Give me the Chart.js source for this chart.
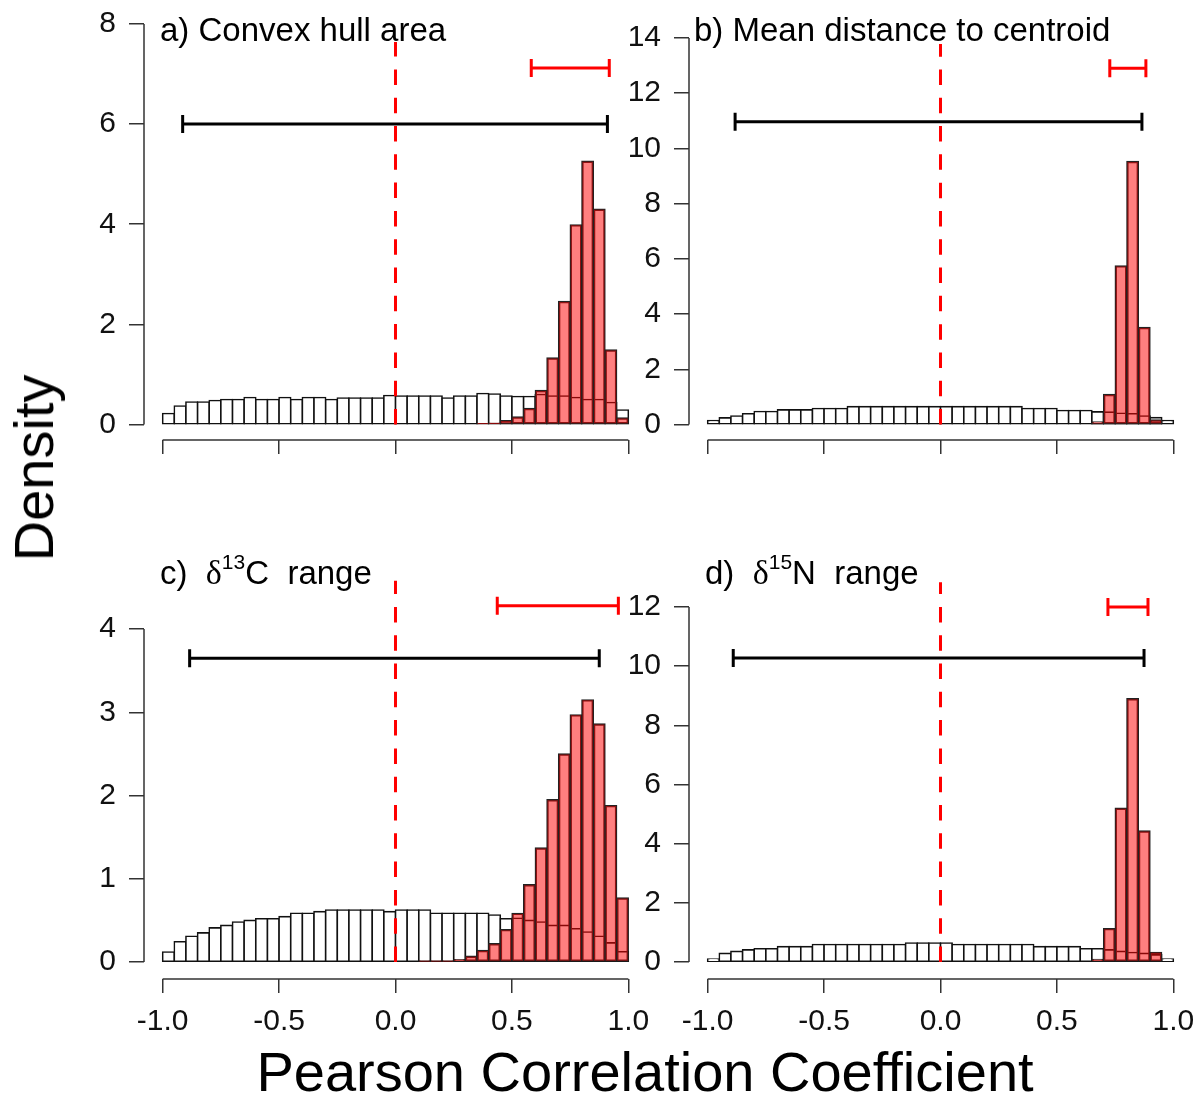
<!DOCTYPE html>
<html>
<head>
<meta charset="utf-8">
<script src="https://cdn.jsdelivr.net/npm/chart.js@4.4.1/dist/chart.umd.min.js"></script>
<style>
  html, body { margin: 0; padding: 0; background: #fff; overflow: hidden; }
  #page { position: relative; width: 1200px; height: 1095px; overflow: hidden;
          font-family: "Liberation Sans", Arial, sans-serif; color: #000; }
  canvas { position: absolute; }
  .title { position: absolute; font-size: 33px; line-height: 33px; white-space: pre; }
  .greek { font-family: "Liberation Serif", "DejaVu Serif", serif; font-size: 34px; }
  .title sup { font-size: 21px; line-height: 0; vertical-align: baseline; position: relative; top: -15px; }
  .axlab { position: absolute; font-size: 56px; line-height: 56px; white-space: nowrap; }
</style>
</head>
<body>
<div id="page">
  <canvas id="panelA" width="677" height="500" style="left:0px;top:-10px"></canvas>
  <canvas id="panelB" width="613" height="490" style="left:609px;top:0px"></canvas>
  <canvas id="panelC" width="677" height="500" style="left:0px;top:560px"></canvas>
  <canvas id="panelD" width="613" height="500" style="left:609px;top:560px"></canvas>

  <div class="title" style="left:160px;top:13px">a) Convex hull area</div>
  <div class="title" style="left:694px;top:13px">b) Mean distance to centroid</div>
  <div class="title" style="left:160px;top:556px">c)  <span class="greek">δ</span><sup>13</sup>C  range</div>
  <div class="title" style="left:705px;top:556px">d)  <span class="greek">δ</span><sup>15</sup>N  range</div>

  <div class="axlab" style="left:34px;top:468px;transform:translate(-50%,-50%) rotate(-90deg)">Density</div>
  <div class="axlab" style="left:645px;top:1044px;transform:translateX(-50%)">Pearson Correlation Coefficient</div>
</div>

<script>
// bins of width 0.05 between -1 and 1
const binCenters = Array.from({ length: 40 }, (_, i) => -0.975 + i * 0.05);
const xTicks = [-1, -0.5, 0, 0.5, 1];
const xTickLabels = ["-1.0", "-0.5", "0.0", "0.5", "1.0"];

// a) Convex hull area
const nullA = [0.22, 0.37, 0.45, 0.45, 0.48, 0.50, 0.50, 0.54, 0.50, 0.50,
               0.54, 0.50, 0.54, 0.54, 0.50, 0.53, 0.53, 0.53, 0.53, 0.58,
               0.57, 0.57, 0.57, 0.57, 0.53, 0.57, 0.57, 0.62, 0.61, 0.57,
               0.56, 0.56, 0.60, 0.57, 0.57, 0.54, 0.50, 0.50, 0.44, 0.29];
const obsA  = [0, 0, 0, 0, 0, 0, 0, 0, 0, 0,
               0, 0, 0, 0, 0, 0, 0, 0, 0, 0,
               0, 0, 0, 0, 0, 0, 0, 0.02, 0.03, 0.08,
               0.15, 0.32, 0.68, 1.33, 2.46, 3.99, 5.26, 4.30, 1.49, 0.13];
const yTicksA = [0, 2, 4, 6, 8];
const ciNullA = [-0.914, 0.910];
const ciObsA = [0.583, 0.918];
const ciLevelA = [6.0, 7.12];
const zeroLineTopA = 7.64;

// b) Mean distance to centroid
const nullB = [0.145, 0.24, 0.31, 0.39, 0.47, 0.47, 0.53, 0.53, 0.53, 0.58,
               0.58, 0.58, 0.65, 0.65, 0.65, 0.65, 0.65, 0.65, 0.65, 0.65,
               0.65, 0.65, 0.65, 0.65, 0.65, 0.65, 0.65, 0.58, 0.58, 0.58,
               0.51, 0.51, 0.51, 0.46, 0.45, 0.41, 0.39, 0.31, 0.25, 0.145];
const obsB  = [0, 0, 0, 0, 0, 0, 0, 0, 0, 0,
               0, 0, 0, 0, 0, 0, 0, 0, 0, 0,
               0, 0, 0, 0, 0, 0, 0, 0, 0, 0,
               0, 0, 0, 0.10, 1.09, 5.75, 9.53, 3.52, 0.17, 0];
const yTicksB = [0, 2, 4, 6, 8, 10, 12, 14];
const ciNullB = [-0.882, 0.865];
const ciObsB = [0.727, 0.882];
const ciLevelB = [10.97, 12.9];
const zeroLineTopB = 13.78;

// c) d13C range
const nullC = [0.12, 0.244, 0.31, 0.35, 0.41, 0.44, 0.48, 0.50, 0.52, 0.52,
               0.545, 0.585, 0.585, 0.605, 0.625, 0.625, 0.625, 0.625, 0.625, 0.605,
               0.625, 0.625, 0.625, 0.585, 0.585, 0.585, 0.585, 0.585, 0.565, 0.52,
               0.525, 0.50, 0.48, 0.44, 0.44, 0.40, 0.36, 0.31, 0.23, 0.124];
const obsC  = [0, 0, 0, 0, 0, 0, 0, 0, 0, 0,
               0, 0, 0, 0, 0, 0, 0, 0, 0, 0,
               0, 0, 0.01, 0.01, 0.01, 0.03, 0.07, 0.14, 0.22, 0.39,
               0.585, 0.93, 1.37, 1.95, 2.50, 2.97, 3.15, 2.86, 1.88, 0.77];
const yTicksC = [0, 1, 2, 3, 4];
const ciNullC = [-0.884, 0.875];
const ciObsC = [0.437, 0.957];
const ciLevelC = [3.65, 4.28];
const zeroLineTopC = 4.58;

// d) d15N range
const nullD = [0.10, 0.29, 0.36, 0.41, 0.45, 0.45, 0.52, 0.52, 0.52, 0.59,
               0.59, 0.59, 0.59, 0.59, 0.59, 0.59, 0.59, 0.64, 0.64, 0.64,
               0.64, 0.59, 0.59, 0.59, 0.59, 0.59, 0.59, 0.59, 0.52, 0.52,
               0.52, 0.52, 0.45, 0.45, 0.41, 0.36, 0.32, 0.29, 0.24, 0.10];
const obsD  = [0, 0, 0, 0, 0, 0, 0, 0, 0, 0,
               0, 0, 0, 0, 0, 0, 0, 0, 0, 0,
               0, 0, 0, 0, 0, 0, 0, 0, 0, 0,
               0, 0, 0, 0.09, 1.13, 5.20, 8.90, 4.43, 0.33, 0];
const yTicksD = [0, 2, 4, 6, 8, 10, 12];
const ciNullD = [-0.890, 0.874];
const ciObsD = [0.719, 0.891];
const ciLevelD = [10.28, 12.0];
const zeroLineTopD = 12.84;

const FONT = "'Liberation Sans', Arial, sans-serif";

function toPoints(values) {
  return values.map((v, i) => (v > 0 ? { x: binCenters[i], y: v } : null)).filter(p => p);
}

// red dashed zero line, CI bars and R-style axis lines
const overlayPlugin = {
  id: "overlay",
  afterDatasetsDraw(chart, args, opts) {
    const { ctx, chartArea } = chart;
    const x = chart.scales.x, y = chart.scales.y;
    ctx.save();

    ctx.strokeStyle = "#333";
    ctx.lineWidth = 1.5;
    ctx.beginPath();
    ctx.moveTo(x.getPixelForValue(xTicks[0]), chartArea.bottom);
    ctx.lineTo(x.getPixelForValue(xTicks[xTicks.length - 1]), chartArea.bottom);
    ctx.moveTo(chartArea.left, y.getPixelForValue(opts.yTicks[0]));
    ctx.lineTo(chartArea.left, y.getPixelForValue(opts.yTicks[opts.yTicks.length - 1]));
    ctx.stroke();

    ctx.strokeStyle = "#ff0000";
    ctx.lineWidth = 3;
    ctx.setLineDash([15.5, 12.8]);
    ctx.beginPath();
    ctx.moveTo(x.getPixelForValue(0), y.getPixelForValue(0));
    ctx.lineTo(x.getPixelForValue(0), y.getPixelForValue(opts.zeroTop));
    ctx.stroke();
    ctx.setLineDash([]);

    opts.intervals.forEach(iv => {
      const x1 = x.getPixelForValue(iv.range[0]);
      const x2 = x.getPixelForValue(iv.range[1]);
      const yy = y.getPixelForValue(iv.level);
      ctx.strokeStyle = iv.color;
      ctx.lineWidth = 3;
      ctx.beginPath();
      ctx.moveTo(x1, yy); ctx.lineTo(x2, yy);
      ctx.moveTo(x1, yy - 9); ctx.lineTo(x1, yy + 9);
      ctx.moveTo(x2, yy - 9); ctx.lineTo(x2, yy + 9);
      ctx.stroke();
    });
    ctx.restore();
  }
};

function makePanel(id, p) {
  const ctx = document.getElementById(id);
  return new Chart(ctx, {
    type: "bar",
    data: {
      datasets: [
        {
          label: "observed",
          data: toPoints(p.obs),
          backgroundColor: "rgba(255, 0, 0, 0.5)",
          borderColor: "#222",
          borderWidth: 1.2,
          borderSkipped: false,
          inflateAmount: 0.6,
          grouped: false,
          barPercentage: 1,
          categoryPercentage: 1,
          order: 0
        },
        {
          label: "null",
          data: toPoints(p.nul),
          backgroundColor: "#ffffff",
          borderColor: "#111",
          borderWidth: 1.6,
          borderSkipped: false,
          inflateAmount: 0.8,
          grouped: false,
          barPercentage: 1,
          categoryPercentage: 1,
          order: 1
        }
      ]
    },
    options: {
      responsive: false,
      animation: false,
      devicePixelRatio: 1,
      events: [],
      layout: { padding: { left: 0, top: p.padTop, right: 30, bottom: 0 } },
      plugins: {
        legend: { display: false },
        tooltip: { enabled: false },
        overlay: {
          yTicks: p.yTicks,
          zeroTop: p.zeroTop,
          intervals: [
            { range: p.ciNull, level: p.ciLevel[0], color: "#000" },
            { range: p.ciObs, level: p.ciLevel[1], color: "#ff0000" }
          ]
        }
      },
      scales: {
        x: {
          type: "linear",
          min: -1.08,
          max: 1.08,
          offset: false,
          afterBuildTicks: s => { s.ticks = xTicks.map(v => ({ value: v })); },
          afterFit: s => { s.height = p.xHeight; },
          border: { display: false },
          grid: { offset: false, drawOnChartArea: false, drawTicks: true, tickLength: 14, color: "#333", lineWidth: 1.5 },
          ticks: {
            display: p.xLabels,
            padding: 11,
            autoSkip: false,
            maxRotation: 0,
            color: "#111",
            font: { family: FONT, size: 30 },
            callback: (v, i) => xTickLabels[i]
          }
        },
        y: {
          min: p.yMin,
          max: p.yTicks[p.yTicks.length - 1],
          afterBuildTicks: s => { s.ticks = p.yTicks.map(v => ({ value: v })); },
          afterFit: s => { s.width = p.yWidth; },
          border: { display: false },
          grid: { drawOnChartArea: false, drawTicks: true, tickLength: 15, color: "#333", lineWidth: 1.5 },
          ticks: {
            padding: 13,
            color: "#111",
            font: { family: FONT, size: 30 },
            callback: v => String(v)
          }
        }
      }
    },
    plugins: [overlayPlugin]
  });
}

// canvas A sits 10px above the page so its plot top lands at y = 24
makePanel("panelA", {
  nul: nullA, obs: obsA, yTicks: yTicksA, yMin: -0.31,
  ciNull: ciNullA, ciObs: ciObsA, ciLevel: ciLevelA, zeroTop: zeroLineTopA,
  padTop: 34, yWidth: 144, xHeight: 50, xLabels: false
});
makePanel("panelB", {
  nul: nullB, obs: obsB, yTicks: yTicksB, yMin: -0.56,
  ciNull: ciNullB, ciObs: ciObsB, ciLevel: ciLevelB, zeroTop: zeroLineTopB,
  padTop: 38, yWidth: 80, xHeight: 50, xLabels: false
});
makePanel("panelC", {
  nul: nullC, obs: obsC, yTicks: yTicksC, yMin: -0.204,
  ciNull: ciNullC, ciObs: ciObsC, ciLevel: ciLevelC, zeroTop: zeroLineTopC,
  padTop: 69, yWidth: 144, xHeight: 81, xLabels: true
});
makePanel("panelD", {
  nul: nullD, obs: obsD, yTicks: yTicksD, yMin: -0.575,
  ciNull: ciNullD, ciObs: ciObsD, ciLevel: ciLevelD, zeroTop: zeroLineTopD,
  padTop: 47, yWidth: 80, xHeight: 81, xLabels: true
});
</script>
</body>
</html>
